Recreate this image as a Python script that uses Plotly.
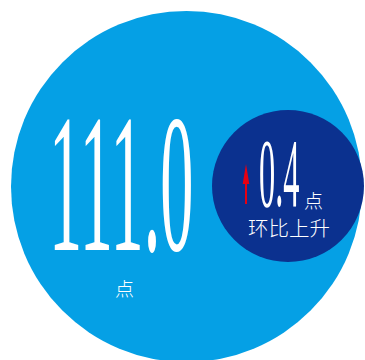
import plotly.graph_objects as go
import json

# ---- data ----
index_value = [111.0]
change_value = [0.4]
unit_labels = ["点"]
change_labels = ["环比上升"]

W, H = 365, 360
LIGHT = "#05a0e5"
DARK = "#0b318f"
RED = "#e60012"

fig = go.Figure()

# big circle and small circle
fig.add_shape(type="circle", xref="x", yref="y", x0=11, x1=362, y0=11, y1=362,
              fillcolor=LIGHT, line=dict(width=0), layer="below")
fig.add_shape(type="circle", xref="x", yref="y", x0=212, x1=364, y0=110, y1=262,
              fillcolor=DARK, line=dict(width=0), layer="below")

# red up arrow (decoration), sized in pixels around its anchor at the shaft foot
fig.add_shape(type="path", xref="x", yref="y", xsizemode="pixel", ysizemode="pixel",
              xanchor=246, yanchor=204,
              path="M0,40 L-3.3,20 L-1,20 L-1,0 L1,0 L1,20 L3.3,20 Z",
              fillcolor=RED, line=dict(width=0), layer="above")

serif = "Liberation Serif"
cjk = "Noto Sans CJK SC"

annos = []
# 0: big number
annos.append(dict(x=121, y=182.5, text=f"{index_value[0]:.1f}", showarrow=False,
                  xanchor="center", yanchor="middle", height=150,
                  font=dict(family=serif, size=197, color="white")))
# 1: small number
annos.append(dict(x=279, y=173, text=f"{change_value[0]:.1f}", showarrow=False,
                  xanchor="center", yanchor="middle", height=74,
                  font=dict(family=serif, size=98, color="white")))
# 2: unit under big number
annos.append(dict(x=124, y=287, text=unit_labels[0], showarrow=False,
                  xanchor="center", yanchor="middle",
                  font=dict(family=cjk, size=19, color="white", weight=300)))
# 3: unit after small number
annos.append(dict(x=313, y=199, text=unit_labels[0], showarrow=False,
                  xanchor="center", yanchor="middle",
                  font=dict(family=cjk, size=19, color="white", weight=300)))
# 4: change label
annos.append(dict(x=289, y=227, text=change_labels[0], showarrow=False,
                  xanchor="center", yanchor="middle",
                  font=dict(family=cjk, size=20.5, color="white", weight=300)))

fig.update_layout(
    width=W, height=H, margin=dict(l=0, r=0, t=0, b=0),
    paper_bgcolor="white", plot_bgcolor="rgba(0,0,0,0)",
    xaxis=dict(range=[0, W], visible=False, fixedrange=True),
    yaxis=dict(range=[H, 0], visible=False, fixedrange=True),
    annotations=annos, showlegend=False,
)

squeeze = {"0": 0.337, "1": 0.33}
post = """
var gd = document.getElementById('{plot_id}');
var spec = SPEC;
function sq(){
  gd.querySelectorAll('g.annotation').forEach(function(g){
    var i = g.getAttribute('data-index');
    if(!(i in spec)) return;
    var t = g.querySelector('text.annotation-text');
    if(!t) return;
    t.removeAttribute('transform');
    var bb = t.getBBox();
    var cx = bb.x + bb.width/2;
    t.setAttribute('transform','translate('+cx+',0) scale('+spec[i]+',1) translate('+(-cx)+',0)');
  });
}
sq();
gd.on('plotly_afterplot', sq);
""".replace("SPEC", json.dumps(squeeze))

fig.write_html("out.html", config={"displayModeBar": False}, post_script=post)
